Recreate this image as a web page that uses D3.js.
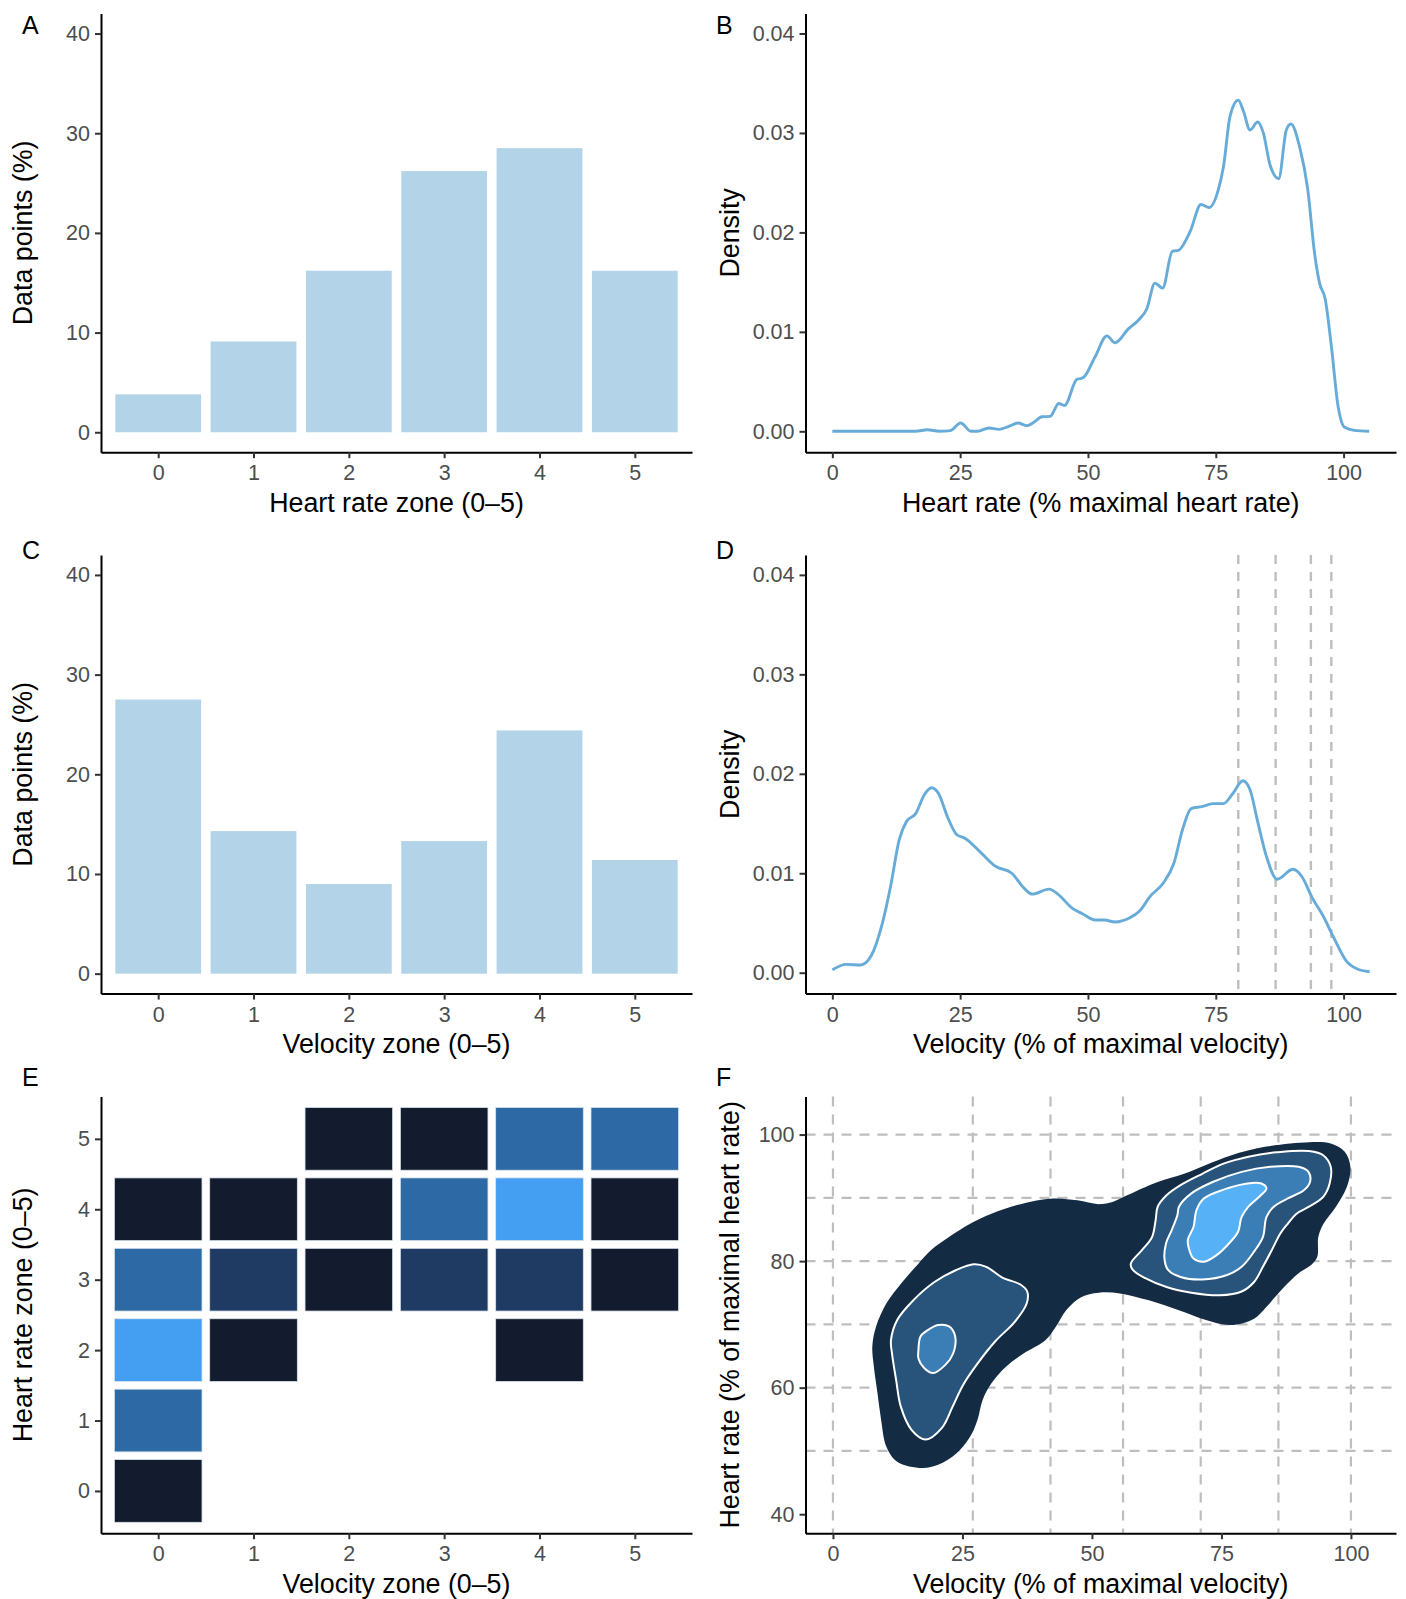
<!DOCTYPE html>
<html>
<head>
<meta charset="utf-8">
<script src="https://cdn.jsdelivr.net/npm/d3@7"></script>
<style>
  html, body { margin: 0; padding: 0; background: #fff; }
  svg text { font-family: "Liberation Sans", Arial, Helvetica, sans-serif; }
</style>
</head>
<body>
<svg id="chart" width="1406" height="1599"></svg>
<script>
// ---------------- DATA ----------------
const zones = [0, 1, 2, 3, 4, 5];
const hrZonePct = [3.8, 9.1, 16.2, 26.2, 28.5, 16.2];     // panel A
const velZonePct = [27.5, 14.3, 9.0, 13.3, 24.4, 11.4];   // panel C
const pctTicks = [0, 10, 20, 30, 40];
const densTicks = [0, 0.01, 0.02, 0.03, 0.04];
const pctAxisTicks = [0, 25, 50, 75, 100];

// panel B: heart-rate density (x = % max HR, y = density)
const hrDensity = [
  [0,0],[10,0],[16.3,0],[18.6,0.00016],[20.9,0],[23.1,0.00007],[25.1,0.00083],[27.1,0],[28.4,0],
  [30.6,0.00033],[32.6,0.0002],[34.5,0.0005],[36.3,0.00083],[38.1,0.00056],[39.4,0.0009],
  [41.0,0.00146],[42.6,0.0015],[44.3,0.0028],[45.4,0.0026],[47.8,0.0052],[49.1,0.0054],
  [51.4,0.0075],[53.7,0.0096],[55.3,0.0089],[57.9,0.0103],[59.9,0.0112],[61.5,0.0123],
  [63.1,0.0149],[64.6,0.0144],[66.5,0.0181],[67.7,0.0182],[70.0,0.0201],[72.1,0.0228],
  [73.7,0.0225],[75.5,0.0243],[76.5,0.0266],[77.8,0.0317],[79.4,0.0333],[80.4,0.0322],
  [81.7,0.0303],[83.2,0.0311],[84.3,0.0300],[85.6,0.0268],[87.3,0.0254],[88.8,0.0303],
  [89.7,0.0309],[91.4,0.0286],[93.0,0.0243],[94.3,0.0180],[95.3,0.0149],[96.4,0.0133],
  [97.6,0.0086],[98.9,0.0026],[100.2,0.0004],[102.1,0.0001],[105.0,0]
];

// panel D: velocity density (x = % max velocity, y = density)
const velDensity = [
  [0,0.0003],[2.7,0.00084],[5.5,0.00077],[7.6,0.0017],[9.65,0.0047],[11.4,0.0087],[13.1,0.0134],
  [14.5,0.0152],[16.3,0.0160],[18.0,0.0179],[19.4,0.0186],[20.8,0.0180],[22.5,0.0157],
  [24.3,0.0139],[26.0,0.0135],[28.8,0.0122],[31.9,0.0107],[35.1,0.0100],[37.5,0.0085],
  [39.1,0.0079],[42.4,0.0084],[44.1,0.0079],[46.9,0.0065],[49.0,0.0059],[51.4,0.0053],
  [53.2,0.0053],[55.3,0.0051],[58.1,0.0055],[60.1,0.0062],[62.2,0.0077],[64.7,0.0090],
  [66.8,0.0110],[68.5,0.0144],[70.2,0.0165],[72.3,0.0167],[74.4,0.0170],[76.5,0.0170],
  [78.3,0.0180],[80.3,0.0193],[81.7,0.0184],[83.1,0.0154],[84.9,0.0117],[87.0,0.0094],
  [90.1,0.0104],[91.8,0.0097],[93.9,0.0075],[96.0,0.0057],[98.1,0.0035],[100.5,0.0012],
  [102.6,0.0004],[105.1,0.0001]
];
const velThresholds = [79.4, 86.7, 93.6, 97.6];   // dashed lines, panel D

// panel E: cross-tabulation velocity zone x heart-rate zone, level 1 (low) .. 4 (high)
const tileVel = [2,3,4,5, 0,1,2,3,4,5, 0,1,2,3,4,5, 0,1,4, 0, 0];
const tileHr  = [5,5,5,5, 4,4,4,4,4,4, 3,3,3,3,3,3, 2,2,2, 1, 0];
const tileLevel=[1,1,3,3, 1,1,1,3,4,1, 3,2,1,2,2,1, 4,1,1, 3, 1];
const tileColors = ["#121c2e", "#1f3b63", "#2c69a5", "#449ef1"];

// panel F: 2D density contour outlines (x = % max velocity, y = % max HR)
const gridVel = [0, 27, 42, 56, 71, 86, 100];
const gridHr = [50, 60, 70, 80, 90, 100];
const hrTicksF = [40, 60, 80, 100];
const contourLevels = [1, 2, 2, 3, 3, 4];
const contourColors = ["#132b43", "#28537b", "#3a7eb5", "#56b1f7"];
const contour1 = [[17.2,47.3],[12.4,48.3],[10.3,50.7],[9.3,54.9],[8.6,59.1],[7.9,63.3],[7.6,66.5],[8.3,69.6],
  [10.3,73.3],[13.4,76.7],[16.5,79.6],[18.9,81.7],[22.4,83.8],[26.5,85.9],[30.6,87.5],[36.2,89.0],
  [42.4,89.9],[47.2,89.6],[51.3,89.0],[54.1,89.4],[56.8,90.4],[62.3,92.4],[67.8,93.8],[72.0,95.2],
  [76.8,96.7],[83.7,98.1],[91.9,98.8],[96.1,98.6],[98.8,97.3],[99.9,94.9],[99.2,91.7],[97.1,88.6],
  [94.7,85.9],[93.7,83.8],[93.5,80.7],[92.3,79.4],[89.9,78.1],[87.1,75.9],[83.7,72.8],[81.3,70.9],
  [76.8,69.9],[72.0,70.7],[66.5,72.3],[61.0,73.8],[55.4,74.9],[51.3,75.0],[47.9,74.3],[45.1,72.3],
  [43.0,69.6],[41.0,67.5],[36.8,65.4],[33.4,63.3],[30.6,60.7],[28.9,58.1],[27.9,54.9],[26.5,52.3],
  [23.8,49.6],[20.3,47.8]];
const contour2a = [[17.9,51.8],[15.2,53.3],[13.1,57.0],[12.2,61.2],[11.4,65.4],[11.2,67.5],[12.4,70.7],
  [15.5,73.8],[19.6,76.7],[23.8,78.6],[27.2,79.5],[29.6,79.1],[32.7,77.4],[36.2,76.3],[37.5,75.2],
  [37.4,73.3],[35.1,70.4],[31.3,67.3],[27.9,63.8],[25.1,60.4],[23.1,57.0],[21.0,53.6]];
const contour2b = [[57.5,79.6],[59.6,81.7],[61.6,83.8],[62.3,86.5],[62.7,88.6],[64.4,90.4],[67.1,92.0],
  [71.3,93.8],[75.4,95.4],[80.2,96.5],[85.7,97.2],[91.9,97.4],[94.7,96.7],[96.1,94.9],[95.9,92.3],
  [94.7,90.2],[91.9,88.6],[89.5,87.5],[87.8,85.9],[86.4,84.4],[84.7,81.7],[83.0,79.1],[81.3,76.7],
  [78.9,75.2],[74.7,74.6],[69.2,75.0],[64.4,75.9],[60.3,77.3],[57.9,78.6]];
const contour3a = [[16.5,65.9],[16.9,68.1],[18.3,69.1],[20.3,69.9],[22.4,69.7],[23.6,68.1],[23.2,65.4],
  [21.7,63.6],[19.3,62.3],[17.6,63.1],[16.5,64.6]];
const contour3b = [[64.0,80.4],[64.3,82.8],[65.4,84.9],[66.5,87.3],[66.8,88.6],[69.2,90.7],[73.3,92.5],
  [78.9,94.1],[84.4,94.9],[89.9,94.9],[91.8,94.1],[92.1,92.5],[90.9,91.2],[87.8,89.9],[85.1,88.6],
  [83.7,87.0],[83.0,83.8],[81.3,81.5],[78.9,79.1],[76.1,77.8],[71.3,77.1],[67.1,77.5],[64.7,78.6]];
const contour4 = [[68.9,81.5],[68.5,83.3],[69.6,85.4],[70.2,88.1],[71.6,89.9],[75.4,91.3],[79.5,92.2],
  [82.6,92.3],[83.7,91.5],[82.6,90.4],[80.2,88.6],[78.9,87.0],[78.2,84.6],[76.8,83.1],[74.0,80.9],
  [71.6,79.9],[69.6,80.4]];
const contourShapes = [contour1, contour2a, contour2b, contour3a, contour3b, contour4];

// ---------------- LAYOUT ----------------
const svg = d3.select("#chart");
svg.append("rect").attr("width", 1406).attr("height", 1599).attr("fill", "#fff");

const colL = [101, 692], colR = [805.5, 1396];
const rows = [[13.6, 452.2], [555, 993.6], [1096.6, 1533.2]];
const TICK_FS = 21.5, TITLE_FS = 26.8, TAG_FS = 25;

function drawAxes(g, x, y, col, row, xTicks, yTicks, yFmt, xTitle, yTitle, yTitleX) {
  const xa = g.append("g").attr("transform", `translate(0,${row[1]})`)
    .call(d3.axisBottom(x).tickValues(xTicks).tickSize(6).tickSizeOuter(0).tickPadding(5).tickFormat(d3.format("d")));
  const ya = g.append("g").attr("transform", `translate(${col[0]},0)`)
    .call(d3.axisLeft(y).tickValues(yTicks).tickSize(6).tickSizeOuter(0).tickPadding(5).tickFormat(yFmt || d3.format("d")));
  [xa, ya].forEach(a => {
    a.select(".domain").attr("stroke", "#000").attr("stroke-width", 2);
    a.selectAll(".tick line").attr("stroke", "#333").attr("stroke-width", 2);
    a.selectAll(".tick text").attr("fill", "#4d4d4d").style("font-size", TICK_FS + "px")
      .style("font-family", '"Liberation Sans", Arial, sans-serif');
  });
  xa.selectAll(".tick text").attr("dy", "0.71em").attr("y", 13);
  g.append("text").attr("x", (col[0] + col[1]) / 2).attr("y", row[1] + 50)
    .attr("text-anchor", "middle").attr("dy", "0.35em").attr("fill", "#000")
    .style("font-size", TITLE_FS + "px").text(xTitle);
  g.append("text").attr("transform", `translate(${yTitleX},${(row[0] + row[1]) / 2}) rotate(-90)`)
    .attr("text-anchor", "middle").attr("dy", "0.35em").attr("fill", "#000")
    .style("font-size", TITLE_FS + "px").text(yTitle);
}
function tag(label, x, y) {
  svg.append("text").attr("x", x).attr("y", y).attr("fill", "#000")
    .style("font-size", TAG_FS + "px").text(label);
}

// ---------- Panels A & C (bar charts) ----------
function barPanel(values, row, xTitle) {
  const g = svg.append("g");
  const x = d3.scaleLinear().domain([-0.6, 5.6]).range(colL);
  const y = d3.scaleLinear().domain([-2, 42]).range([row[1], row[0]]);
  g.selectAll("rect.bar").data(zones).join("rect").attr("class", "bar")
    .attr("x", d => x(d - 0.45)).attr("width", d => x(d + 0.45) - x(d - 0.45))
    .attr("y", (d, i) => y(values[i])).attr("height", (d, i) => y(0) - y(values[i]))
    .attr("fill", "#b3d3e8");
  drawAxes(g, x, y, colL, row, zones, pctTicks, d3.format("d"), xTitle, "Data points (%)", 22.4);
}
barPanel(hrZonePct, rows[0], "Heart rate zone (0–5)");
barPanel(velZonePct, rows[1], "Velocity zone (0–5)");

// ---------- Panels B & D (density curves) ----------
function densityPanel(data, row, xTitle, vlines) {
  const g = svg.append("g");
  const x = d3.scaleLinear().domain([-5.25, 110.25]).range(colR);
  const y = d3.scaleLinear().domain([-0.0021, 0.042]).range([row[1], row[0]]);
  if (vlines) {
    g.selectAll("line.vl").data(vlines).join("line").attr("class", "vl")
      .attr("x1", d => x(d)).attr("x2", d => x(d)).attr("y1", row[0]).attr("y2", row[1])
      .attr("stroke", "#bebebe").attr("stroke-width", 2.4).attr("stroke-dasharray", "9,8");
  }
  const line = d3.line().x(d => x(d[0])).y(d => y(d[1])).curve(d3.curveMonotoneX);
  g.append("path").datum(data).attr("d", line).attr("fill", "none")
    .attr("stroke", "#67acd9").attr("stroke-width", 2.9);
  drawAxes(g, x, y, colR, row, pctAxisTicks, densTicks, d3.format(".2f"), xTitle, "Density", 730);
}
densityPanel(hrDensity, rows[0], "Heart rate (% maximal heart rate)", null);
densityPanel(velDensity, rows[1], "Velocity (% of maximal velocity)", velThresholds);

// ---------- Panel E (tiles) ----------
(function () {
  const row = rows[2];
  const g = svg.append("g");
  const x = d3.scaleLinear().domain([-0.6, 5.6]).range(colL);
  const y = d3.scaleLinear().domain([-0.6, 5.6]).range([row[1], row[0]]);
  const color = d3.scaleOrdinal().domain([1, 2, 3, 4]).range(tileColors);
  const gap = 7.7;
  g.selectAll("rect.tile").data(tileLevel).join("rect").attr("class", "tile")
    .attr("x", (d, i) => x(tileVel[i] - 0.5) + gap / 2)
    .attr("width", (d, i) => x(tileVel[i] + 0.5) - x(tileVel[i] - 0.5) - gap)
    .attr("y", (d, i) => y(tileHr[i] + 0.5) + gap / 2)
    .attr("height", (d, i) => y(tileHr[i] - 0.5) - y(tileHr[i] + 0.5) - gap)
    .attr("fill", d => color(d)).attr("stroke", "#d9e2ec").attr("stroke-width", 0.8);
  drawAxes(g, x, y, colL, row, zones, zones, d3.format("d"), "Velocity zone (0–5)", "Heart rate zone (0–5)", 22.4);
})();

// ---------- Panel F (2D density contours) ----------
(function () {
  const row = rows[2];
  const g = svg.append("g");
  const x = d3.scaleLinear().domain([-5.3, 108.7]).range(colR);
  const y = d3.scaleLinear().domain([37, 106]).range([row[1], row[0]]);
  g.selectAll("line.gv").data(gridVel).join("line").attr("class", "gv")
    .attr("x1", d => x(d)).attr("x2", d => x(d)).attr("y1", row[0]).attr("y2", row[1])
    .attr("stroke", "#bebebe").attr("stroke-width", 2.2).attr("stroke-dasharray", "10,8");
  g.selectAll("line.gh").data(gridHr).join("line").attr("class", "gh")
    .attr("x1", colR[0]).attr("x2", colR[1]).attr("y1", d => y(d)).attr("y2", d => y(d))
    .attr("stroke", "#bebebe").attr("stroke-width", 2.2).attr("stroke-dasharray", "10,8");
  const line = d3.line().x(d => x(d[0])).y(d => y(d[1])).curve(d3.curveCatmullRomClosed.alpha(0.5));
  g.selectAll("path.ct").data(contourShapes).join("path").attr("class", "ct")
    .attr("d", d => line(d))
    .attr("fill", (d, i) => contourColors[contourLevels[i] - 1])
    .attr("stroke", (d, i) => contourLevels[i] === 1 ? "none" : "#fff")
    .attr("stroke-width", 2);
  drawAxes(g, x, y, colR, row, pctAxisTicks, hrTicksF, d3.format("d"),
    "Velocity (% of maximal velocity)", "Heart rate (% of maximal heart rate)", 730);
})();

// ---------- Panel tags ----------
tag("A", 22, 33.5); tag("B", 716, 33.5);
tag("C", 22, 559); tag("D", 716, 559);
tag("E", 22, 1086); tag("F", 716, 1086);
</script>
</body>
</html>
